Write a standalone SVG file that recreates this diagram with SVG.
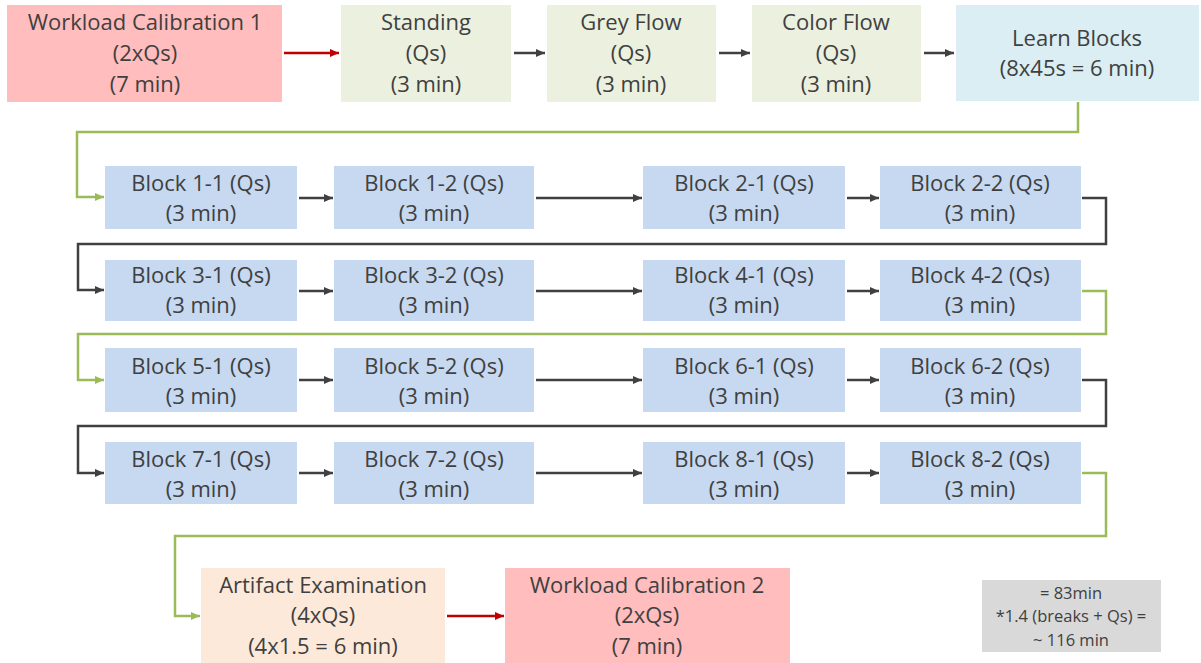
<svg xmlns="http://www.w3.org/2000/svg" width="1201" height="663" viewBox="0 0 1201 663">
<style>
text{font-family:"Open Sans","Noto Sans","Liberation Sans",sans-serif;font-size:22px;fill:#404040;text-anchor:middle}
.note{font-size:16.5px}
.red{fill:#FFBDBD}.grn{fill:#EBF1DE}.cyan{fill:#DAEEF3}.blue{fill:#C6D9F1}.peach{fill:#FDE9D9}.grey{fill:#D9D9D9}
.k{stroke:#404040;stroke-width:2.5;fill:none}
.r{stroke:#C00000;stroke-width:2.5;fill:none}
.g{stroke:#9BBB59;stroke-width:2.5;fill:none}
</style>
<defs>
<marker id="ak" markerUnits="userSpaceOnUse" markerWidth="9" markerHeight="9" refX="9" refY="4.5" orient="auto"><path d="M0,0.5 L9,4.5 L0,8.5z" fill="#404040"/></marker>
<marker id="ar" markerUnits="userSpaceOnUse" markerWidth="9" markerHeight="9" refX="9" refY="4.5" orient="auto"><path d="M0,0.5 L9,4.5 L0,8.5z" fill="#C00000"/></marker>
<marker id="ag" markerUnits="userSpaceOnUse" markerWidth="9" markerHeight="9" refX="9" refY="4.5" orient="auto"><path d="M0,0.5 L9,4.5 L0,8.5z" fill="#9BBB59"/></marker>
</defs>
<rect width="1201" height="663" fill="#fff"/>
<g id="connectors">
<line class="r" x1="284" y1="53" x2="339" y2="53" marker-end="url(#ar)"/>
<line class="k" x1="514" y1="53" x2="545" y2="53" marker-end="url(#ak)"/>
<line class="k" x1="719" y1="53" x2="750" y2="53" marker-end="url(#ak)"/>
<line class="k" x1="924" y1="53" x2="954" y2="53" marker-end="url(#ak)"/>
<path class="g" d="M1078,102 V132 H77 V197 H104" marker-end="url(#ag)"/>
<line class="k" x1="299" y1="198" x2="333" y2="198" marker-end="url(#ak)"/>
<line class="k" x1="536" y1="198" x2="642" y2="198" marker-end="url(#ak)"/>
<line class="k" x1="847" y1="198" x2="879" y2="198" marker-end="url(#ak)"/>
<path class="k" d="M1082,198 H1106 V244 H78 V290 H104" marker-end="url(#ak)"/>
<line class="k" x1="299" y1="291" x2="333" y2="291" marker-end="url(#ak)"/>
<line class="k" x1="536" y1="291" x2="642" y2="291" marker-end="url(#ak)"/>
<line class="k" x1="847" y1="291" x2="879" y2="291" marker-end="url(#ak)"/>
<path class="g" d="M1082,291 H1106 V334 H78 V380 H104" marker-end="url(#ag)"/>
<line class="k" x1="299" y1="380" x2="333" y2="380" marker-end="url(#ak)"/>
<line class="k" x1="536" y1="380" x2="642" y2="380" marker-end="url(#ak)"/>
<line class="k" x1="847" y1="380" x2="879" y2="380" marker-end="url(#ak)"/>
<path class="k" d="M1082,380 H1106 V426 H78 V473 H104" marker-end="url(#ak)"/>
<line class="k" x1="299" y1="473" x2="333" y2="473" marker-end="url(#ak)"/>
<line class="k" x1="536" y1="473" x2="642" y2="473" marker-end="url(#ak)"/>
<line class="k" x1="847" y1="473" x2="879" y2="473" marker-end="url(#ak)"/>
<path class="g" d="M1082,473 H1106 V536 H175 V616 H200" marker-end="url(#ag)"/>
<line class="r" x1="447" y1="616" x2="504" y2="616" marker-end="url(#ar)"/>
</g>
<g id="wc1"><rect class="red" x="7" y="5" width="275" height="97"/><text x="145" y="30">Workload Calibration 1</text><text x="145" y="61">(2xQs)</text><text x="145" y="92">(7 min)</text></g>
<g id="standing"><rect class="grn" x="341" y="5" width="170" height="97"/><text x="426" y="30">Standing</text><text x="426" y="61">(Qs)</text><text x="426" y="92">(3 min)</text></g>
<g id="greyflow"><rect class="grn" x="547" y="5" width="169" height="97"/><text x="631" y="30">Grey Flow</text><text x="631" y="61">(Qs)</text><text x="631" y="92">(3 min)</text></g>
<g id="colorflow"><rect class="grn" x="752" y="5" width="169" height="97"/><text x="836" y="30">Color Flow</text><text x="836" y="61">(Qs)</text><text x="836" y="92">(3 min)</text></g>
<g id="learn"><rect class="cyan" x="956" y="5" width="243" height="96"/><text x="1077" y="46">Learn Blocks</text><text x="1077" y="76">(8x45s = 6 min)</text></g>
<g id="b11"><rect class="blue" x="105" y="166" width="192" height="63"/><text x="201" y="191">Block 1-1 (Qs)</text><text x="201" y="221">(3 min)</text></g>
<g id="b12"><rect class="blue" x="334" y="166" width="200" height="63"/><text x="434" y="191">Block 1-2 (Qs)</text><text x="434" y="221">(3 min)</text></g>
<g id="b21"><rect class="blue" x="643" y="166" width="202" height="63"/><text x="744" y="191">Block 2-1 (Qs)</text><text x="744" y="221">(3 min)</text></g>
<g id="b22"><rect class="blue" x="880" y="166" width="201" height="63"/><text x="980" y="191">Block 2-2 (Qs)</text><text x="980" y="221">(3 min)</text></g>
<g id="b31"><rect class="blue" x="105" y="260" width="192" height="61"/><text x="201" y="283">Block 3-1 (Qs)</text><text x="201" y="313">(3 min)</text></g>
<g id="b32"><rect class="blue" x="334" y="260" width="200" height="61"/><text x="434" y="283">Block 3-2 (Qs)</text><text x="434" y="313">(3 min)</text></g>
<g id="b41"><rect class="blue" x="643" y="260" width="202" height="61"/><text x="744" y="283">Block 4-1 (Qs)</text><text x="744" y="313">(3 min)</text></g>
<g id="b42"><rect class="blue" x="880" y="260" width="201" height="61"/><text x="980" y="283">Block 4-2 (Qs)</text><text x="980" y="313">(3 min)</text></g>
<g id="b51"><rect class="blue" x="105" y="348" width="192" height="64"/><text x="201" y="374">Block 5-1 (Qs)</text><text x="201" y="404">(3 min)</text></g>
<g id="b52"><rect class="blue" x="334" y="348" width="200" height="64"/><text x="434" y="374">Block 5-2 (Qs)</text><text x="434" y="404">(3 min)</text></g>
<g id="b61"><rect class="blue" x="643" y="348" width="202" height="64"/><text x="744" y="374">Block 6-1 (Qs)</text><text x="744" y="404">(3 min)</text></g>
<g id="b62"><rect class="blue" x="880" y="348" width="201" height="64"/><text x="980" y="374">Block 6-2 (Qs)</text><text x="980" y="404">(3 min)</text></g>
<g id="b71"><rect class="blue" x="105" y="442" width="192" height="62"/><text x="201" y="467">Block 7-1 (Qs)</text><text x="201" y="497">(3 min)</text></g>
<g id="b72"><rect class="blue" x="334" y="442" width="200" height="62"/><text x="434" y="467">Block 7-2 (Qs)</text><text x="434" y="497">(3 min)</text></g>
<g id="b81"><rect class="blue" x="643" y="442" width="202" height="62"/><text x="744" y="467">Block 8-1 (Qs)</text><text x="744" y="497">(3 min)</text></g>
<g id="b82"><rect class="blue" x="880" y="442" width="201" height="62"/><text x="980" y="467">Block 8-2 (Qs)</text><text x="980" y="497">(3 min)</text></g>
<g id="artifact"><rect class="peach" x="201" y="568" width="244" height="95"/><text x="323" y="593">Artifact Examination</text><text x="323" y="623">(4xQs)</text><text x="323" y="654">(4x1.5 = 6 min)</text></g>
<g id="wc2"><rect class="red" x="505" y="568" width="285" height="95"/><text x="647" y="593">Workload Calibration 2</text><text x="647" y="623">(2xQs)</text><text x="647" y="654">(7 min)</text></g>
<g id="note"><rect class="grey" x="982" y="580" width="179" height="72"/><text class="note" x="1071" y="599">= 83min</text><text class="note" x="1071" y="622">*1.4 (breaks + Qs) =</text><text class="note" x="1071" y="646">~ 116 min</text></g>
</svg>
